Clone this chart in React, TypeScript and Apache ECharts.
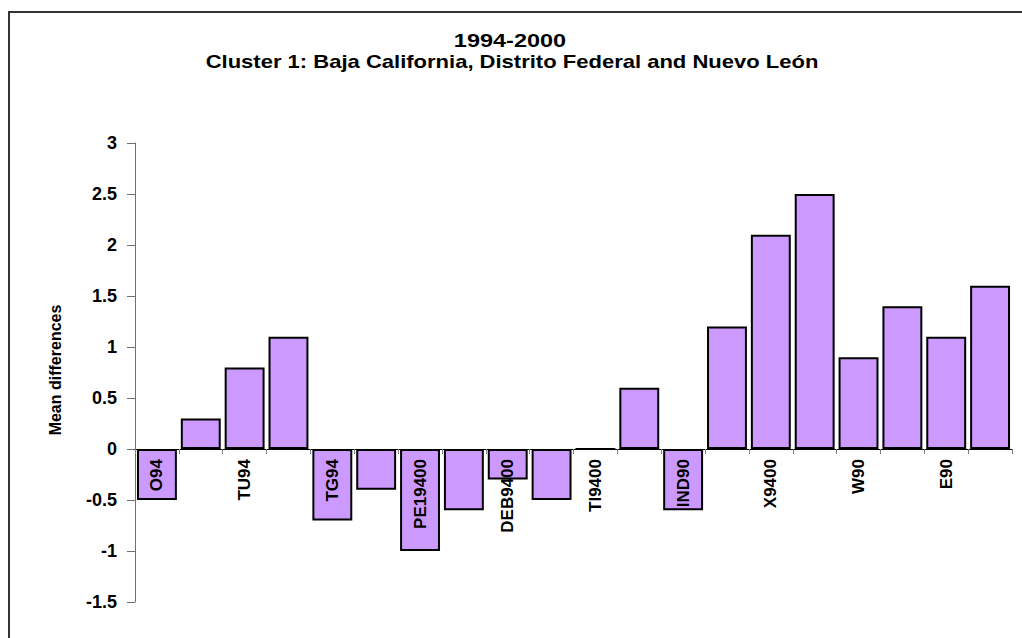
import React, { useEffect, useRef } from "react";
import * as echarts from "echarts";

const titleLine1 = "1994-2000";
const titleLine2 = "Cluster 1: Baja California, Distrito Federal and Nuevo León";
const yAxisName = "Mean differences";

const categories = [
  "O94", "", "TU94", "", "TG94", "", "PE19400", "", "DEB9400", "",
  "TI9400", "", "IND90", "", "X9400", "", "W90", "", "E90", "",
];
const values = [
  -0.5, 0.3, 0.8, 1.1, -0.7, -0.4, -1.0, -0.6, -0.3, -0.5,
  0, 0.6, -0.6, 1.2, 2.1, 2.5, 0.9, 1.4, 1.1, 1.6,
];
const yMin = -1.5;
const yMax = 3;
const yInterval = 0.5;

const FONT = '"Liberation Sans", Arial, sans-serif';

const GRID_TOP = 143;
const GRID_BOTTOM = 36;
const CHART_H = 638;
const gridH = CHART_H - GRID_TOP - GRID_BOTTOM;
// put the category axis (line, ticks, labels) on the zero line
const zeroOffset = -(gridH * (0 - yMin)) / (yMax - yMin);

export default function App() {
  const ref = useRef<HTMLDivElement>(null);
  useEffect(() => {
    if (!ref.current) return;
    const chart = echarts.init(ref.current, null, { renderer: "svg" });
    chart.setOption({
      animation: false,
      backgroundColor: "#ffffff",
      grid: {
        left: 135,
        right: 10,
        top: GRID_TOP,
        bottom: GRID_BOTTOM,
        containLabel: false,
        outerBoundsMode: "none",
      },
      xAxis: {
        type: "category",
        data: categories,
        z: 10,
        position: "bottom",
        offset: zeroOffset,
        axisLine: { onZero: false, lineStyle: { color: "#000000", width: 1 } },
        axisTick: { show: true, interval: 0, length: 5, lineStyle: { color: "#808080" } },
        axisLabel: {
          interval: 1,
          rotate: 90,
          margin: 10,
          color: "#000000",
          fontFamily: FONT,
          fontWeight: "bold",
          fontSize: 17,
        },
        splitLine: { show: false },
      },
      yAxis: {
        type: "value",
        min: yMin,
        max: yMax,
        interval: yInterval,
        axisLine: { show: true, lineStyle: { color: "#707070", width: 1 } },
        axisTick: { show: true, length: 8, lineStyle: { color: "#707070" } },
        axisLabel: {
          margin: 18,
          color: "#000000",
          fontFamily: FONT,
          fontWeight: "bold",
          fontSize: 18,
          formatter: (v: number) => String(v),
        },
        splitLine: { show: false },
      },
      series: [
        {
          type: "bar",
          data: values,
          barCategoryGap: "9%",
          itemStyle: { color: "#CC99FF", borderColor: "#000000", borderWidth: 2 },
        },
      ],
      graphic: [
        {
          type: "rect",
          silent: true,
          shape: { x: 9, y: 12, width: 1200, height: 1000 },
          style: { fill: "none", stroke: "#333333", lineWidth: 2 },
          z: 100,
        },
        {
          type: "text",
          x: 510,
          y: 31,
          scaleX: 1.27,
          style: {
            text: titleLine1,
            fill: "#000000",
            font: `bold 18.5px ${FONT}`,
            textAlign: "center",
            textVerticalAlign: "top",
          },
        },
        {
          type: "text",
          x: 512,
          y: 52,
          scaleX: 1.19,
          style: {
            text: titleLine2,
            fill: "#000000",
            font: `bold 18.5px ${FONT}`,
            textAlign: "center",
            textVerticalAlign: "top",
          },
        },
        {
          type: "text",
          x: 47,
          y: 370,
          rotation: Math.PI / 2,
          style: {
            text: yAxisName,
            fill: "#000000",
            font: `bold 16px ${FONT}`,
            textAlign: "center",
            textVerticalAlign: "top",
          },
        },
      ],
    });
    return () => chart.dispose();
  }, []);
  return (
    <div
      ref={ref}
      style={{ position: "fixed", left: 0, top: 0, width: 1022, height: CHART_H, background: "#fff" }}
    />
  );
}
